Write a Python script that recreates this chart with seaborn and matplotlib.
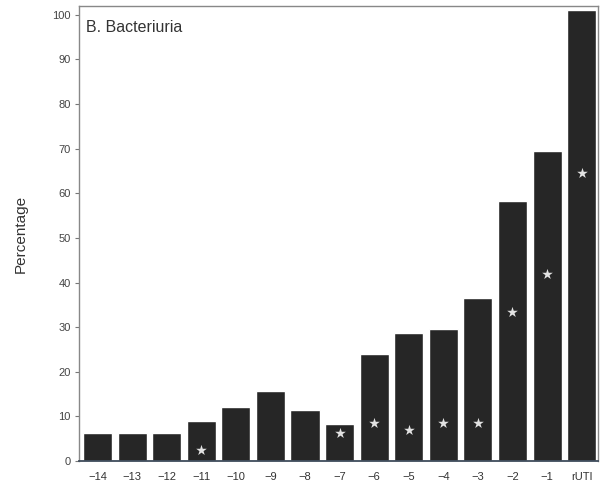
import matplotlib
matplotlib.use("Agg")
import matplotlib.pyplot as plt
import seaborn as sns
import pandas as pd

# Months before recurrent UTI and share of samples with bacteriuria
months = ["\u221214", "\u221213", "\u221212", "\u221211", "\u221210", "\u22129", "\u22128",
          "\u22127", "\u22126", "\u22125", "\u22124", "\u22123", "\u22122", "\u22121", "rUTI"]
percentage = [6.3, 6.2, 6.2, 9.0, 12.2, 15.8, 11.4, 8.3, 24.1, 28.6, 29.5, 36.5, 58.3, 69.5, 101.0]

# Significance markers (category, height of star)
star_months = ["\u221211", "\u22127", "\u22126", "\u22125", "\u22124", "\u22123", "\u22122", "\u22121", "rUTI"]
star_heights = [2.5, 6.3, 8.6, 7.0, 8.6, 8.6, 33.5, 41.9, 64.6]

yticks = list(range(0, 101, 10))

sns.set_theme(style="white")
plt.rcParams["font.family"] = ["Liberation Sans", "DejaVu Sans"]

df = pd.DataFrame({"month": months, "pct": percentage})

fig = plt.figure(figsize=(6.0, 4.9), dpi=100)
ax = fig.add_axes([0.132, 0.059, 0.865, 0.929])

sns.barplot(data=df, x="month", y="pct", order=months, color="#262626",
            saturation=1, width=0.84, ax=ax)

stars = pd.DataFrame({"month": star_months, "h": star_heights})
xpos = [months.index(m) for m in stars["month"]]
ax.scatter(xpos, stars["h"], marker="*", s=65, color="#e2e2e2", zorder=5, linewidths=0)

ax.set_xlim(-0.53, 14.48)
ax.set_ylim(0, 102)
ax.set_yticks(yticks)
ax.set_yticklabels([str(t) for t in yticks])
ax.set_xlabel("")
ax.set_ylabel("Percentage", fontsize=11, color="#333333", labelpad=18)

ax.tick_params(axis="y", which="both", left=True, length=3, width=0.8,
               color="#777777", labelsize=8, labelcolor="#444444", pad=3)
ax.tick_params(axis="x", bottom=False, labelsize=8, labelcolor="#333333", pad=2)

for side in ["left", "top", "right"]:
    ax.spines[side].set_color("#888888")
    ax.spines[side].set_linewidth(1.0)
ax.spines["bottom"].set_color("#3f4c5c")
ax.spines["bottom"].set_linewidth(1.3)

ax.text(0.014, 0.970, "B. Bacteriuria", transform=ax.transAxes, ha="left", va="top",
        fontsize=11.5, color="#333333")

fig.savefig("out.png", dpi=100, facecolor="white")
